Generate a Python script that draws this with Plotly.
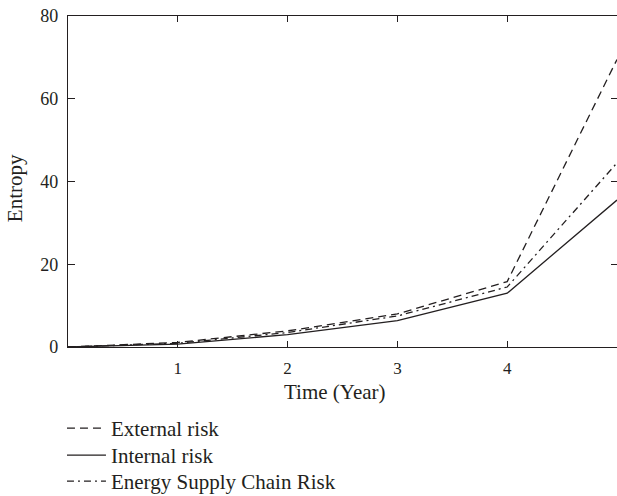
import plotly.graph_objects as go

years = [0, 1, 2, 3, 4, 5]
external_risk = [0, 1.1, 3.9, 8.0, 15.8, 69.5]
internal_risk = [0, 0.7, 3.0, 6.4, 13.0, 35.5]
supply_chain_risk = [0, 0.9, 3.5, 7.5, 14.5, 44.5]
x_ticks = [1, 2, 3, 4]
y_ticks = [0, 20, 40, 60, 80]

FONT = "Liberation Serif"
INK = "#231f20"

fig = go.Figure()
fig.add_trace(go.Scatter(x=years, y=external_risk, mode="lines", name="External risk",
                         legend="legend",
                         line=dict(color=INK, width=1.3, dash="8px,5px")))
fig.add_trace(go.Scatter(x=years, y=internal_risk, mode="lines", name="Internal risk",
                         legend="legend2",
                         line=dict(color=INK, width=1.3)))
fig.add_trace(go.Scatter(x=years, y=supply_chain_risk, mode="lines", name="Energy Supply Chain Risk",
                         legend="legend3",
                         line=dict(color=INK, width=1.3, dash="7px,4px,2px,4px")))
# invisible trace to carry the right-hand tick axis
fig.add_trace(go.Scatter(x=[years[0]], y=[y_ticks[0]], yaxis="y2", mode="lines",
                         showlegend=False, hoverinfo="skip", line=dict(width=0)))


def legend_box(ytop):
    return dict(x=-0.011, y=ytop, xanchor="left", yanchor="top", xref="paper", yref="paper",
                bgcolor="rgba(0,0,0,0)", borderwidth=0, itemwidth=39,
                font=dict(family=FONT, size=21, color=INK))


fig.update_layout(
    width=617, height=496,
    margin=dict(l=68, r=0, t=16, b=149, autoexpand=False),
    paper_bgcolor="white", plot_bgcolor="white",
    font=dict(family=FONT, size=17, color=INK),
    showlegend=True,
    legend=legend_box(-0.1843),
    legend2=legend_box(-0.2659),
    legend3=legend_box(-0.3445),
    xaxis=dict(range=[0, 5], tickvals=x_ticks, ticktext=[str(v) for v in x_ticks],
               automargin=False,
               showgrid=False, zeroline=False, showline=True, linecolor=INK, linewidth=1.3,
               mirror="ticks", ticks="inside", ticklen=6, tickcolor=INK, tickwidth=1,
               ticklabelstandoff=5,
               tickfont=dict(family=FONT, size=17, color=INK)),
    yaxis=dict(range=[0, 80], tickvals=y_ticks, ticktext=[str(v) for v in y_ticks],
               automargin=False,
               showgrid=False, zeroline=False, showline=True, linecolor=INK, linewidth=1.3,
               ticks="inside", ticklen=7, tickcolor=INK, tickwidth=1,
               ticklabelstandoff=5,
               tickfont=dict(family=FONT, size=18, color=INK)),
    yaxis2=dict(range=[0, 80], overlaying="y", side="right", tickvals=y_ticks,
                automargin=False,
                showticklabels=False, showgrid=False, zeroline=False, showline=False,
                ticks="inside", ticklen=6, tickcolor=INK, tickwidth=1),
    annotations=[
        dict(text="Time (Year)", xref="x", yref="paper", x=2.43, y=-0.136,
             xanchor="center", yanchor="middle", showarrow=False,
             font=dict(family=FONT, size=21, color=INK)),
        dict(text="Entropy", xref="paper", yref="paper", x=-0.0965, y=0.48,
             xanchor="center", yanchor="middle", showarrow=False, textangle=-90,
             font=dict(family=FONT, size=21, color=INK)),
    ],
)

fig.write_html("out.html", config={"displayModeBar": False},
               post_script="document.body.style.margin='0';")
